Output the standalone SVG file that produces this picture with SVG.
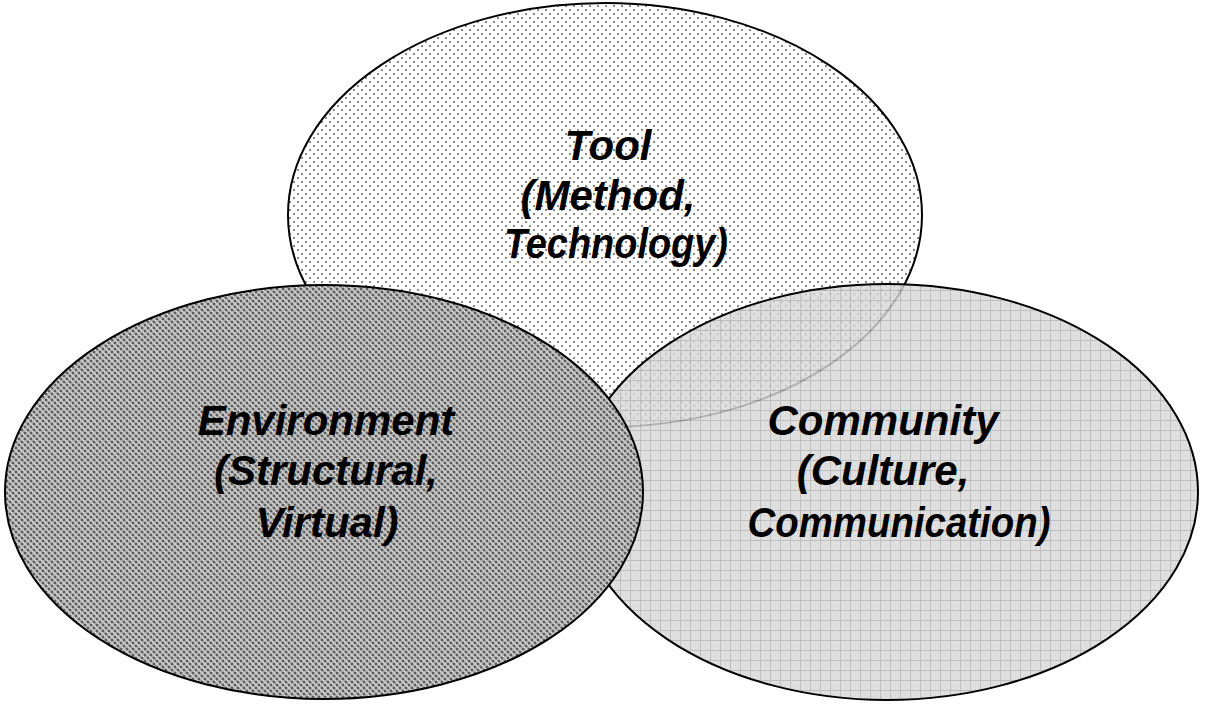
<svg xmlns="http://www.w3.org/2000/svg" width="1205" height="705" viewBox="0 0 1205 705">
  <style>
    .outline { stroke: #000; stroke-width: 2; }
    .label { font-family: "Liberation Sans", Arial, sans-serif; font-size: 42px; font-weight: bold; font-style: italic; fill: #000; text-anchor: middle; }
  </style>
  <defs>
    <!-- sparse dot screen -->
    <pattern id="dots" width="8" height="8" patternUnits="userSpaceOnUse">
      <rect width="8" height="8" fill="#fff"/>
      <rect x="1" y="1" width="2" height="2" fill="#8a8a8a"/>
      <rect x="5" y="5" width="2" height="2" fill="#8a8a8a"/>
    </pattern>
    <!-- dense checker screen -->
    <pattern id="checker" width="6" height="6" patternUnits="userSpaceOnUse">
      <rect width="6" height="6" fill="#a2a2a2"/>
      <rect x="0" y="0" width="2" height="2" fill="#5e5e5e"/>
      <rect x="3" y="3" width="2" height="2" fill="#5e5e5e"/>
      <rect x="3" y="0" width="2" height="2" fill="#c8c8c8"/>
      <rect x="0" y="3" width="2" height="2" fill="#c8c8c8"/>
      <rect x="5" y="2" width="1" height="1" fill="#f4f4f4"/>
      <rect x="2" y="5" width="1" height="1" fill="#f4f4f4"/>
    </pattern>
    <!-- light grid -->
    <pattern id="grid" width="10" height="10" patternUnits="userSpaceOnUse">
      <rect width="10" height="10" fill="#d8d8d8"/>
      <rect x="0" y="0" width="10" height="1" fill="#b0b0b0"/>
      <rect x="0" y="0" width="1" height="10" fill="#b0b0b0"/>
      <rect x="5" y="5" width="1" height="1" fill="#c4c4c4"/>
    </pattern>
  </defs>

  <rect width="1205" height="705" fill="#fff"/>

  <g id="tool">
    <ellipse cx="605" cy="215" rx="317" ry="212" fill="url(#dots)" class="outline"/>
    <text class="label" x="608" y="160">Tool</text>
    <text class="label" x="608" y="210">(Method,</text>
    <text class="label" x="616" y="258" textLength="224" lengthAdjust="spacingAndGlyphs">Technology)</text>
  </g>

  <g id="community">
    <ellipse cx="887" cy="492" rx="311" ry="208" fill="url(#grid)" fill-opacity="0.82" class="outline"/>
    <text class="label" x="883" y="435">Community</text>
    <text class="label" x="883" y="485">(Culture,</text>
    <text class="label" x="899" y="537" textLength="303" lengthAdjust="spacingAndGlyphs">Communication)</text>
  </g>

  <g id="environment">
    <ellipse cx="324" cy="492" rx="319" ry="207" fill="url(#checker)" class="outline"/>
    <text class="label" x="326" y="435">Environment</text>
    <text class="label" x="326" y="485">(Structural,</text>
    <text class="label" x="327" y="537">Virtual)</text>
  </g>
</svg>
